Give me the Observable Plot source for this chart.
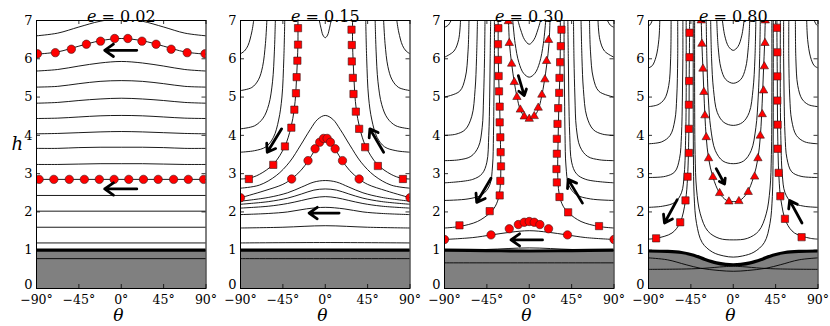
<!DOCTYPE html>
<html><head><meta charset="utf-8">
<script src="https://cdn.jsdelivr.net/npm/d3@7"></script>
<script src="https://cdn.jsdelivr.net/npm/@observablehq/plot@0.6"></script>
<style>
body{margin:0;background:#fff}
#wrap{position:relative;width:830px;height:326px;overflow:hidden}
#wrap svg{position:absolute;top:0;overflow:visible;background:transparent}
</style></head><body><div id="wrap"></div>
<script>
// ---------- axes ----------
const thetaTicks = [-90, -45, 0, 45, 90];
const hTicks = [0, 1, 2, 3, 4, 5, 6, 7];
const eLabels = ["0.02", "0.15", "0.30", "0.80"];

// ---------- panel 1 (e = 0.02) ----------
const p1Grid = [-90, -67.5, -45, -22.5, 0];
const p1Arches = [
  [6.60, 6.67, 6.83, 6.98, 7.05],
  [6.12, 6.18, 6.33, 6.47, 6.53],
  [5.68, 5.72, 5.81, 5.89, 5.93],
  [5.26, 5.28, 5.35, 5.41, 5.43],
  [4.84, 4.86, 4.91, 4.95, 4.97],
  [4.44, 4.45, 4.48, 4.51, 4.52],
  [4.04, 4.05, 4.07, 4.09, 4.10],
  [3.66, 3.66, 3.68, 3.69, 3.69],
  [3.24, 3.24, 3.25, 3.26, 3.26]
];
const p1Flat = [2.85, 2.43, 2.02, 1.60, 1.19, 0.78];
const p1Ground = [[-90, 1.0], [0, 1.0]];
const p1CircTheta1 = [-89, -70, -53, -37, -22, -7, 7, 22, 37, 53, 70, 89];
const p1CircH1 = [6.13, 6.16, 6.25, 6.38, 6.46, 6.53, 6.53, 6.46, 6.38, 6.25, 6.16, 6.13];
const p1CircTheta2 = [-87.2, -71.6, -55.2, -39.2, -23.3, -7.6, 8.0, 23.6, 39.2, 55.6, 71.2, 87.5];
const p1CircH2 = [2.85, 2.85, 2.85, 2.85, 2.85, 2.85, 2.85, 2.85, 2.85, 2.85, 2.85, 2.85];
const p1Arrows = [[16.5, 6.22, -17.6, 6.22], [16.5, 2.6, -17.6, 2.6]];

// ---------- panel 2 (e = 0.15) ----------
const p2Side = [
  [[-76, 7], [-78, 6.7], [-82, 6.35], [-86, 6.2], [-90, 6.13]],
  [[-62, 7], [-63.5, 6.4], [-66.5, 5.8], [-71, 5.45], [-78, 5.25], [-90, 5.17]],
  [[-53, 7], [-54, 6.2], [-56, 5.4], [-60, 4.8], [-66, 4.45], [-75, 4.25], [-90, 4.17]],
  [[-43, 7], [-44, 6], [-46, 5], [-49.5, 4.4], [-55, 3.95], [-63, 3.7], [-75, 3.6], [-90, 3.56]],
  [[-29, 7], [-29, 6.4], [-29.6, 5.95], [-30.4, 5.52], [-31.3, 5.1], [-33, 4.67], [-36.5, 4.2], [-43, 3.71], [-55, 3.25], [-70, 2.98], [-81, 2.88], [-90, 2.86]]
];
const p2Arches = [
  [[-90, 2.62], [-70, 2.7], [-52, 2.95], [-38, 3.3], [-26, 3.75], [-16, 4.15], [-8, 4.42], [0, 4.52]],
  [[-90, 2.37], [-65, 2.55], [-45, 2.72], [-36, 2.86], [-26, 3.08], [-18, 3.34], [-11, 3.62], [-5, 3.85], [0, 3.93]],
  [[-90, 2.28], [-60, 2.38], [-40, 2.5], [-25, 2.65], [-12, 2.78], [0, 2.82]],
  [[-90, 2.2], [-60, 2.27], [-40, 2.36], [-25, 2.47], [-12, 2.57], [0, 2.6]],
  [[-90, 2.1], [-60, 2.15], [-40, 2.22], [-25, 2.3], [-12, 2.37], [0, 2.4]],
  [[-90, 1.93], [-60, 1.96], [-40, 2.0], [-20, 2.08], [0, 2.12]],
  [[-90, 1.58], [-45, 1.6], [0, 1.64]],
  [[-90, 1.19], [0, 1.2]],
  [[-6.3, 7], [-4.5, 6.8], [-2.5, 6.62], [0, 6.55]],
  [[-90, 0.78], [0, 0.78]]
];
const p2Ground = [[-90, 1.0], [0, 1.0]];
const p2CircTheta = [-90, -35.7, -18.3, -10.8, -5.9, -1.8, 2.0, 5.5, 10.5, 18.3, 36.0, 90];
const p2CircH = [2.37, 2.86, 3.34, 3.65, 3.82, 3.92, 3.92, 3.82, 3.65, 3.34, 2.86, 2.37];
const p2SqTheta = [-28.9, -28.9, -29.6, -30.4, -31.1, -32.8, -36.0, -42.8, -55.2, -81.1,
                   27.9, 28.2, 28.2, 29.3, 30.0, 32.5, 36.0, 42.4, 55.9, 82.5];
const p2SqH = [6.80, 6.37, 5.95, 5.52, 5.10, 4.67, 4.20, 3.71, 3.23, 2.86,
               6.76, 6.36, 5.93, 5.50, 5.08, 4.62, 4.17, 3.69, 3.20, 2.86];
const p2Arrows = [[-46.3, 4.17, -61.6, 3.56], [62.0, 3.56, 47.4, 4.17], [14.7, 1.97, -17.2, 1.97]];

// ---------- panel 3 (e = 0.30) ----------
const p3Side = [
  [[-83, 7], [-86, 6.88], [-90, 6.82]],
  [[-73, 7], [-75, 6.5], [-80, 6.2], [-90, 6.04]],
  [[-64, 7], [-65, 6.2], [-68, 5.5], [-74, 5.15], [-90, 5.0]],
  [[-55, 7], [-56, 6], [-57.5, 5.2], [-61, 4.5], [-68, 4.15], [-78, 4.03], [-90, 4.0]],
  [[-47, 7], [-47.5, 6], [-48.5, 5], [-50, 4.2], [-54, 3.7], [-62, 3.45], [-75, 3.36], [-90, 3.34]],
  [[-41, 7], [-41.5, 6], [-42, 5], [-43, 4], [-45, 3.3], [-50, 3], [-60, 2.85], [-90, 2.76]],
  [[-37, 7], [-37, 6], [-37.5, 5], [-38, 4], [-39, 3.2], [-42, 2.7], [-50, 2.45], [-65, 2.34], [-90, 2.3]],
  [[-33, 7], [-33, 6.38], [-32.5, 5.55], [-31.4, 4.75], [-30.7, 3.95], [-30.2, 3.2], [-30.5, 2.8], [-32, 2.43], [-36, 2.15], [-42, 1.97], [-55, 1.75], [-74, 1.62], [-90, 1.58]]
];
const p3Arches = [
  [[-12, 7], [-9, 6.75], [-5, 6.5], [0, 6.38]],
  [[-17.5, 7], [-15, 6.4], [-11, 5.9], [-6, 5.62], [0, 5.52]],
  [[-22, 7], [-21, 6.4], [-18.7, 5.87], [-15.9, 5.39], [-13, 5.0], [-9.5, 4.67], [-5, 4.49], [0, 4.43]],
  [[-90, 1.28], [-60, 1.33], [-40, 1.4], [-20, 1.47], [0, 1.51]],
  [[-90, 1.0], [-45, 1.02], [0, 1.06]],
  [[-90, 0.67], [0, 0.67]]
];
const p3Ground = [[-90, 1.0], [-45, 0.99], [0, 0.98]];
const p3SqTheta = [-32.8, -33.2, -33.2, -32.5, -32.1, -31.4, -31.4, -30.7, -30.4, -30.0, -30.7, -31.4, -42.0, -74.1,
                   34.2, 33.5, 32.8, 32.1, 31.8, 30.7, 30.0, 29.3, 29.3, 28.9, 29.3, 32.1, 41.3, 74.1];
const p3SqH = [6.80, 6.38, 5.97, 5.55, 5.15, 4.75, 4.34, 3.95, 3.56, 3.19, 2.81, 2.43, 2.02, 1.65,
               6.76, 6.33, 5.91, 5.50, 5.11, 4.71, 4.30, 3.91, 3.52, 3.12, 2.77, 2.39, 1.99, 1.63];
const p3TriTheta = [-22.2, -21.2, -18.7, -15.9, -13.1, -9.5, -5.3, 0, 5.3, 9.5, 13.4, 16.6, 18.4, 20.5];
const p3TriH = [6.98, 6.41, 5.87, 5.39, 5.0, 4.67, 4.49, 4.43, 4.50, 4.72, 5.06, 5.46, 5.94, 6.49];
const p3CircTheta = [-90, -40.6, -21.2, -11.6, -5.3, 0, 5.3, 11.3, 20.5, 40.6, 90];
const p3CircH = [1.28, 1.40, 1.56, 1.67, 1.73, 1.75, 1.73, 1.67, 1.56, 1.40, 1.28];
const p3Arrows = [[-11.6, 5.56, -5.3, 5.04], [-40.6, 2.88, -55.8, 2.25], [56.5, 2.23, 41.3, 2.85], [14.1, 1.27, -19.4, 1.27]];

// ---------- panel 4 (e = 0.80) ----------
const p4Side = [
  [[-86, 7], [-88, 6.9], [-90, 6.85]],
  [[-78, 7], [-79, 6.5], [-82, 6.05], [-86, 5.82], [-90, 5.76]],
  [[-66, 7], [-66.5, 6], [-68.5, 5.3], [-73, 4.95], [-80, 4.8], [-90, 4.75]],
  [[-59, 7], [-59, 6], [-60, 5], [-62, 4.4], [-67, 4.0], [-76, 3.83], [-90, 3.78]],
  [[-53.5, 7], [-53.5, 6], [-54, 5], [-55, 4], [-57, 3.4], [-62, 3.05], [-72, 2.93], [-90, 2.9]],
  [[-50, 7], [-50, 5], [-50.5, 4], [-52, 3], [-55, 2.5], [-62, 2.25], [-75, 2.15], [-90, 2.12]],
  [[-46.4, 7], [-46.4, 6.68], [-46.8, 5.42], [-47.1, 4.17], [-48.5, 2.92], [-50.7, 2.3], [-56.3, 1.73], [-65, 1.45], [-82, 1.31], [-90, 1.29]]
];
const p4Arches = [
  [[-11.5, 7], [-9, 6.6], [-5, 6.32], [0, 6.22]],
  [[-17.5, 7], [-16, 6.3], [-13, 5.75], [-8, 5.46], [0, 5.36]],
  [[-24, 7], [-23, 6], [-21, 5.2], [-17, 4.6], [-10, 4.34], [0, 4.26]],
  [[-28.7, 7], [-28, 6], [-26.5, 5], [-24, 4.2], [-19, 3.6], [-11, 3.33], [0, 3.26]],
  [[-34, 7], [-33.3, 6.39], [-32.2, 5.74], [-31.2, 5.13], [-30.1, 4.52], [-28.7, 3.95], [-26.2, 3.4], [-21.6, 2.91], [-14.5, 2.49], [-7, 2.3], [0, 2.27]],
  [[-41, 7], [-41, 5], [-40.5, 3.5], [-39, 2.6], [-35, 1.95], [-27, 1.5], [-15, 1.31], [0, 1.27]],
  [[-42.5, 7], [-42.5, 5], [-42.3, 3.5], [-41.5, 2.4], [-39, 1.7], [-33, 1.2], [-22, 0.95], [-10, 0.85], [0, 0.82]],
  [[-90, 0.8], [-70, 0.75], [-50, 0.62], [-35, 0.53], [-15, 0.47], [0, 0.45]],
  [[-90, 0.5], [-50, 0.51], [-30, 0.53], [-10, 0.57], [0, 0.58]]
];
const p4Ground = [[-90, 0.98], [-70, 0.97], [-55, 0.94], [-42, 0.87], [-30, 0.76], [-18, 0.67], [-8, 0.63], [0, 0.62]];
const p4SqTheta = [-46.4, -46.4, -46.8, -47.1, -47.1, -47.1, -48.5, -50.7, -56.3, -81.9,
                   46.4, 46.8, 46.8, 46.8, 47.1, 47.1, 48.2, 50.0, 54.9, 72.6];
const p4SqH = [6.68, 6.04, 5.42, 4.80, 4.17, 3.54, 2.92, 2.30, 1.73, 1.31,
               6.81, 6.17, 5.54, 4.91, 4.28, 3.65, 3.02, 2.41, 1.82, 1.34];
const p4TriTheta = [-34.0, -33.3, -32.2, -31.2, -30.1, -28.7, -26.2, -21.6, -14.5, -4.6, 6.0, 15.9, 22.7, 26.2, 28.7, 30.8, 32.2, 33.0, 33.7, 34.0];
const p4TriH = [7.0, 6.39, 5.74, 5.13, 4.52, 3.95, 3.40, 2.91, 2.49, 2.27, 2.28, 2.52, 2.92, 3.40, 3.99, 4.55, 5.17, 5.80, 6.41, 7.0];
const p4Arrows = [[-18.1, 3.13, -9.2, 2.73], [-59.5, 2.32, -73.0, 1.71], [73.0, 1.71, 59.9, 2.30]];

// ---------- helpers ----------
const full = half => half.concat(half.slice(0, -1).reverse().map(([t, h]) => [-t, h]));
const pairSides = left => [left, left.map(([t, h]) => [-t, h])];
const zipPts = (ts, hs) => ts.map((t, i) => ({t, h: hs[i]}));
const degFmt = d => (d < 0 ? "\u2212" + (-d) : "" + d) + "\u00b0";

const panels = [
  {
    left: 0, title: eLabels[0], showH: true,
    lines: [...p1Arches.map(a => full(a.map((h, i) => [p1Grid[i], h]))), ...p1Flat.map(h => [[-90, h], [90, h]])],
    ground: full(p1Ground),
    dots: [{symbol: "circle", r: 4.2, pts: [...zipPts(p1CircTheta1, p1CircH1), ...zipPts(p1CircTheta2, p1CircH2)]}],
    arrows: p1Arrows
  },
  {
    left: 204, title: eLabels[1],
    lines: [...p2Side.flatMap(pairSides), ...p2Arches.map(full)],
    ground: full(p2Ground),
    dots: [{symbol: "circle", r: 4.2, pts: zipPts(p2CircTheta, p2CircH)},
           {symbol: "square", r: 4.1, pts: zipPts(p2SqTheta, p2SqH)}],
    arrows: p2Arrows
  },
  {
    left: 407.5, title: eLabels[2],
    lines: [...p3Side.flatMap(pairSides), ...p3Arches.map(full)],
    ground: full(p3Ground),
    dots: [{symbol: "circle", r: 4.2, pts: zipPts(p3CircTheta, p3CircH)},
           {symbol: "square", r: 4.1, pts: zipPts(p3SqTheta, p3SqH)},
           {symbol: "triangle", r: 3.1, pts: zipPts(p3TriTheta, p3TriH)}],
    arrows: p3Arrows
  },
  {
    left: 611.5, title: eLabels[3],
    lines: [...p4Side.flatMap(pairSides), ...p4Arches.map(full)],
    ground: full(p4Ground),
    dots: [{symbol: "square", r: 4.1, pts: zipPts(p4SqTheta, p4SqH)},
           {symbol: "triangle", r: 3.1, pts: zipPts(p4TriTheta, p4TriH)}],
    arrows: p4Arrows
  }
];

const wrap = document.getElementById("wrap");
const plotW = 169.5, plotH = 268;
const tkY = 7 * 4 / plotH, tkX = 180 * 4 / plotW;
const FONT = "DejaVu Serif, serif";

for (const p of panels) {
  const lineData = p.lines.flatMap((pts, id) => pts.map(([t, h]) => ({id, t, h})));
  const groundData = p.ground.map(([t, h]) => ({t, h}));
  const arrowData = p.arrows.map(([x1, y1, x2, y2]) => ({x1, y1, x2, y2}));
  const marks = [
    Plot.areaY(groundData, {x: "t", y1: 0, y2: "h", fill: "#808080", curve: "catmull-rom"}),
    Plot.line(lineData, {x: "t", y: "h", z: "id", stroke: "#000", strokeWidth: 0.9, curve: "catmull-rom", clip: true}),
    Plot.line(groundData, {x: "t", y: "h", stroke: "#000", strokeWidth: 3.2, curve: "catmull-rom", clip: true}),
    ...p.dots.map(g => Plot.dot(g.pts, {x: "t", y: "h", symbol: g.symbol, r: g.r, fill: "#ff0000", stroke: "#3a1a1a", strokeWidth: 0.6, clip: true})),
    Plot.arrow(arrowData, {x1: "x1", y1: "y1", x2: "x2", y2: "y2", stroke: "#000", strokeWidth: 2.8, headLength: 9, headAngle: 70}),
    Plot.ruleX(thetaTicks, {y1: 0, y2: tkY, stroke: "#000", strokeWidth: 0.8}),
    Plot.ruleX(thetaTicks, {y1: 7 - tkY, y2: 7, stroke: "#000", strokeWidth: 0.8}),
    Plot.ruleY(hTicks, {x1: -90, x2: -90 + tkX, stroke: "#000", strokeWidth: 0.8}),
    Plot.ruleY(hTicks, {x1: 90 - tkX, x2: 90, stroke: "#000", strokeWidth: 0.8}),
    Plot.frame({stroke: "#000", strokeWidth: 1}),
    Plot.axisX({ticks: thetaTicks, tickSize: 0, tickPadding: 6.5, tickFormat: degFmt, label: null, fontSize: 12.5, fontFamily: FONT}),
    Plot.axisY({ticks: hTicks.slice(1), tickSize: 0, tickPadding: 4, tickFormat: d => "" + d, label: null, fontSize: 13, fontFamily: FONT}),
    Plot.axisY({ticks: hTicks.slice(0, 1), tickSize: 0, tickPadding: 4, dy: -4, tickFormat: d => "" + d, label: null, fontSize: 13, fontFamily: FONT}),
    Plot.text(["e = " + p.title], {frameAnchor: "top", dy: -10, text: d => d, fontSize: 16, fontFamily: FONT}),
    Plot.text(["\u03b8"], {frameAnchor: "bottom", dx: -3, dy: 32.5, text: d => d, fontSize: 17, fontStyle: "italic", fontFamily: FONT})
  ];
  if (p.showH) marks.push(Plot.text(["h"], {frameAnchor: "left", dx: -25, dy: -10, text: d => d, fontSize: 18, fontStyle: "italic", fontFamily: FONT}));
  const svg = Plot.plot({
    width: 36 + plotW + 10, height: 326,
    marginLeft: 36, marginRight: 10, marginTop: 20, marginBottom: 38,
    x: {domain: [-90, 90], label: null},
    y: {domain: [0, 7], label: null},
    style: {fontFamily: FONT, fontSize: "13px", background: "transparent", overflow: "visible", color: "#000"},
    marks
  });
  svg.style.left = p.left + "px";
  svg.setAttribute("font-family", FONT);
  svg.querySelectorAll("text").forEach(t => {
    t.style.fontFamily = FONT;
    if (t.textContent === "e = " + p.title) {
      // italic "e" in the panel title
      t.textContent = "";
      const ts = document.createElementNS("http://www.w3.org/2000/svg", "tspan");
      ts.setAttribute("font-style", "italic");
      ts.textContent = "e";
      t.appendChild(ts);
      t.appendChild(document.createTextNode(" = " + p.title));
    }
  });
  wrap.appendChild(svg);
}
</script></body></html>
